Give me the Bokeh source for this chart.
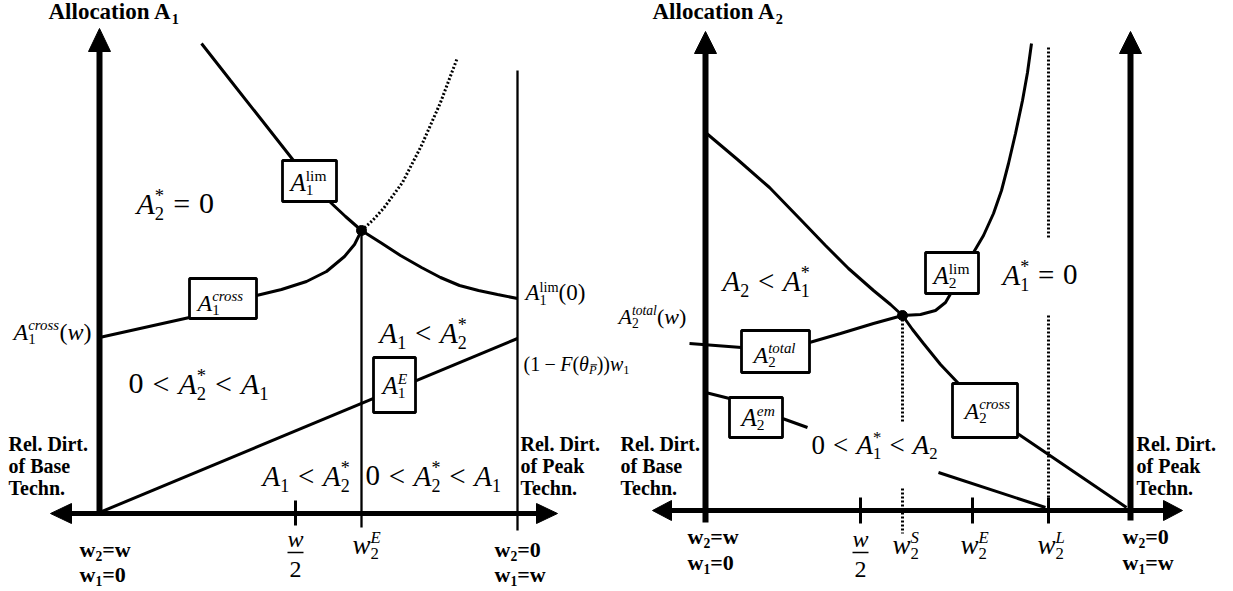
from bokeh.plotting import figure
from bokeh.models import Range1d, ColumnDataSource
from bokeh.embed import file_html
from bokeh.resources import INLINE
from bokeh.core.properties import value, field

# ---------------- data: schematic (page-pixel units) ----------------
# Left panel (Allocation A1)
lim1_x = [201, 230, 260, 293, 329, 345, 361, 380, 400, 421, 440, 459, 478, 497, 517]
lim1_y = [43, 80, 118, 160, 201, 216, 230, 242, 255, 267, 277, 285, 290, 294, 298]
lim1_dot_x = [361, 372, 383, 402, 421, 440, 457]
lim1_dot_y = [230, 220, 208, 182, 145, 102, 57]
cross1_x = [99, 189, 256, 281, 306, 326, 344, 354, 361]
cross1_y = [337, 317, 295, 289, 281, 271, 256, 244, 230]
e1_x = [99, 517]
e1_y = [512, 338]

# Right panel (Allocation A2)
upper2_x = [705, 737, 769, 800, 825, 848, 873, 890, 902]
upper2_y = [132, 159, 187, 219, 245, 268, 290, 304, 315]
lim2_x = [902, 920, 935, 945, 952, 973, 983, 993, 1001, 1008, 1015, 1022, 1027, 1031]
lim2_y = [315, 314, 310, 302, 290, 252, 235, 213, 190, 163, 133, 100, 72, 43]
total2_x = [689, 741, 809, 840, 873, 902]
total2_y = [343, 347, 342, 333, 323, 315]
cross2_x = [902, 912, 923, 940, 958, 1017, 1126]
cross2_y = [315, 329, 343, 364, 383, 433, 507]
em2a_x = [705, 729, 782, 807]
em2a_y = [392, 398, 418, 427]
em2b_x = [938, 1045]
em2b_y = [472, 507]

# intersection points
dots_x = [361, 902]
dots_y = [230, 315]

# label boxes
box_left = [282, 189, 373, 925, 741, 729, 952]
box_right = [336, 256, 415, 978, 809, 782, 1017]
box_top = [160, 278, 357, 252, 330, 397, 383]
box_bottom = [201, 318, 412, 293, 372, 437, 437]

rel_dirt_lines = ["Rel. Dirt.", "of Base", "Techn."]
rel_dirt_lines_peak = ["Rel. Dirt.", "of Peak", "Techn."]

SERIF = "Liberation Serif"
BASE_SHIFT = 0.33   # baseline correction (in em) for the text glyph

# ---------------- figure ----------------
p = figure(width=1233, height=591, x_range=Range1d(0, 1233), y_range=Range1d(591, 0),
           x_axis_type=None, y_axis_type=None, toolbar_location=None,
           output_backend="svg", min_border=0)
p.outline_line_color = None
p.background_fill_color = "white"
p.border_fill_color = "white"

K = "black"

# ---- axes ----
p.segment(x0=[99], y0=[48], x1=[99], y1=[514], line_width=6, color=K)
p.segment(x0=[68], y0=[513], x1=[539], y1=[513], line_width=5, color=K)
p.segment(x0=[705, 1130], y0=[51, 51], x1=[705, 1130], y1=[522, 520], line_width=6, color=K)
p.segment(x0=[669], y0=[510], x1=[1165], y1=[510], line_width=5, color=K)

# arrow heads
p.patches(xs=[[99, 88, 110], [705, 694, 716], [1130, 1119, 1141],
              [50, 71, 71], [557, 536, 536], [652, 671, 671], [1182, 1163, 1163]],
          ys=[[28, 51, 51], [31, 53, 53], [31, 53, 53],
              [513, 503, 523], [513, 503, 523], [510, 500, 520], [510, 500, 520]],
          color=K, line_width=1)

# ticks and thin verticals
p.segment(x0=[295, 860, 972, 1048], y0=[500, 497, 497, 497],
          x1=[295, 860, 972, 1048], y1=[525, 523, 523, 523], line_width=3, color=K)
p.segment(x0=[361, 517], y0=[230, 70], x1=[361, 517], y1=[527, 530], line_width=2.3, color=K)

# dotted verticals (right panel)
p.segment(x0=[902, 902, 1048, 1048], y0=[315, 488, 47, 315],
          x1=[902, 902, 1048, 1048], y1=[422, 533, 237, 497],
          line_width=3, color=K, line_dash="2 2")

# ---- curves ----
LW = 3
p.line(lim1_x, lim1_y, line_width=LW, color=K)
p.line(lim1_dot_x, lim1_dot_y, line_width=3, color=K, line_dash="2 2")
p.line(cross1_x, cross1_y, line_width=LW, color=K)
p.line(e1_x, e1_y, line_width=LW, color=K)
p.line(upper2_x, upper2_y, line_width=LW, color=K)
p.line(lim2_x, lim2_y, line_width=LW, color=K)
p.line(total2_x, total2_y, line_width=LW, color=K)
p.line(cross2_x, cross2_y, line_width=LW, color=K)
p.line(em2a_x, em2a_y, line_width=LW, color=K)
p.line(em2b_x, em2b_y, line_width=LW, color=K)
p.scatter(dots_x, dots_y, size=10, color=K)

# boxes
p.quad(left=box_left, right=box_right, top=box_top, bottom=box_bottom,
       fill_color="white", line_color=K, line_width=2.8)

# ---------------- text layout helper ----------------
W_R = {' ': 250, '(': 333, ')': 333, '*': 500, '=': 564, '<': 564, '\u2212': 564,
       'A': 722, 'E': 611, 'F': 556, 'L': 611, 'S': 556, 'P': 556,
       'a': 444, 'c': 444, 'e': 444, 'i': 278, 'l': 278, 'm': 778, 'n': 500,
       'o': 500, 'r': 333, 's': 389, 't': 278, 'w': 722}
W_I = {'A': 611, 'E': 611, 'F': 611, 'L': 556, 'S': 500, 'P': 611, 'w': 667,
       'c': 444, 'r': 389, 'o': 500, 's': 389, 't': 278, 'a': 500, 'l': 278,
       'e': 444, 'm': 722, '\u03b8': 500}
W_B = {'A': 722, 'l': 278, 'o': 500, 'c': 444, 'a': 500, 't': 333, 'i': 278,
       'n': 556, ' ': 250, 'R': 722, 'e': 444, '.': 250, 'D': 722, 'r': 444,
       'f': 333, 'B': 667, 's': 389, 'T': 667, 'h': 556, 'P': 611, 'k': 556,
       'w': 722, '=': 570}
TABLES = {'r': W_R, 'i': W_I, 'b': W_B}
STYLE = {'r': 'normal', 'i': 'italic', 'b': 'bold'}
store = {k: dict(x=[], y=[], text=[], size=[]) for k in TABLES}


def tw(s, st, fs):
    t = TABLES[st]
    return sum(t.get(c, 500) for c in s) / 1000.0 * fs


def put(st, x, y, s, fs):
    d = store[st]
    d['x'].append(x); d['y'].append(y - BASE_SHIFT * fs); d['text'].append(s)
    d['size'].append("%.1fpx" % fs)


def run(x, y, pieces, size):
    cur = x
    prev_start = x
    placed = []
    for pc in pieces:
        s, st = pc[0], pc[1]
        pos = pc[2] if len(pc) > 2 else 'n'
        stack = len(pc) > 3 and pc[3]
        fs, dy, pad = size, 0.0, 0.0
        if pos == 'sub':
            fs, dy = size * 0.62, 0.2 * size
        elif pos == 'sup':
            fs, dy = size * 0.62, -0.4 * size
        elif pos == 'rel':
            pad = 0.3 * size
        elif pos == 'bin':
            pad = 0.22 * size
        start = prev_start if stack else cur + pad
        w = tw(s, st, fs)
        put(st, start, y + dy, s, fs)
        placed.append((start, y + dy, fs, w))
        cur = max(cur, start + w) if stack else start + w + pad
        prev_start = start
    return placed


A1 = [("A", 'i'), ("1", 'r', 'sub')]
A2 = [("A", 'i'), ("2", 'r', 'sub')]
A1s = A1 + [("*", 'r', 'sup', True)]
A2s = A2 + [("*", 'r', 'sup', True)]
LT = [("<", 'r', 'rel')]
EQ = [("=", 'r', 'rel')]
ZERO = [("0", 'r')]

# titles
run(48, 19, [("Allocation A", 'b'), ("1", 'b', 'sub')], 23)
run(652, 19, [("Allocation A", 'b'), ("2", 'b', 'sub')], 23)

# left-panel region labels
run(136, 213, A2s + EQ + ZERO, 30)
run(128, 393, ZERO + LT + A2s + LT + A1, 30)
run(379, 342, A1 + LT + A2s, 29)
run(262, 485, A1 + LT + A2s, 29)
run(365, 485, ZERO + LT + A2s + LT + A1, 29)
run(13, 339, A1 + [("cross", 'i', 'sup', True), ("(", 'r'), ("w", 'i'), (")", 'r')], 24)
run(525, 300, A1 + [("lim", 'r', 'sup', True), ("(0)", 'r')], 23)
pl = run(523, 370, [("(1", 'r'), ("\u2212", 'r', 'bin'), ("F", 'i'), ("(", 'r'), ("\u03b8", 'i'),
                    ("P", 'i', 'sub'), ("))", 'r'), ("w", 'i'), ("1", 'r', 'sub')], 20)
px0, py0, pfs, pw = pl[5]
p.segment(x0=[px0 + 1.5], y0=[py0 - 0.78 * pfs], x1=[px0 + pw + 0.5], y1=[py0 - 0.78 * pfs],
          line_width=1, color=K)
# left boxes
run(290, 190, A1 + [("lim", 'r', 'sup', True)], 25)
run(197, 310, A1 + [("cross", 'i', 'sup', True)], 24)
run(382, 393, A1 + [("E", 'i', 'sup', True)], 25)

# right-panel region labels
run(722, 290, A2 + LT + A1s, 29)
run(1002, 284, A1s + EQ + ZERO, 29)
run(811, 453, ZERO + LT + A1s + LT + A2, 27)
run(618, 323, A2 + [("total", 'i', 'sup', True), ("(", 'r'), ("w", 'i'), (")", 'r')], 22)
# right boxes
run(933, 283, A2 + [("lim", 'r', 'sup', True)], 25)
run(753, 362, A2 + [("total", 'i', 'sup', True)], 24)
run(741, 425, A2 + [("em", 'i', 'sup', True)], 25)
run(964, 418, A2 + [("cross", 'i', 'sup', True)], 24)

# bold tick labels at axis ends
for (x, y1, y2, a, b) in [(79, 556, 581, "w", "0"), (494, 556, 581, "0", "w"),
                          (687, 543, 569, "w", "0"), (1122, 543, 569, "0", "w")]:
    run(x, y1, [("w", 'b'), ("2", 'b', 'sub'), ("=" + a, 'b')], 22)
    run(x, y2, [("w", 'b'), ("1", 'b', 'sub'), ("=" + b, 'b')], 22)

# italic tick labels
run(352, 553, [("w", 'i'), ("2", 'r', 'sub'), ("E", 'i', 'sup', True)], 27)
run(892, 553, [("w", 'i'), ("2", 'r', 'sub'), ("S", 'i', 'sup', True)], 27)
run(960, 553, [("w", 'i'), ("2", 'r', 'sub'), ("E", 'i', 'sup', True)], 27)
run(1037, 553, [("w", 'i'), ("2", 'r', 'sub'), ("L", 'i', 'sup', True)], 27)

# Rel. Dirt. captions
for x0, lines in [(8, rel_dirt_lines), (520, rel_dirt_lines_peak),
                  (620, rel_dirt_lines), (1136, rel_dirt_lines_peak)]:
    for yb, s in zip([450, 472, 494], lines):
        put('b', x0, yb, s, 20)

for st, d in store.items():
    p.text(x='x', y='y', text='text', source=ColumnDataSource(d),
           text_font=value(SERIF), text_font_size=field('size'), text_font_style=STYLE[st],
           text_baseline='alphabetic', text_align='left', text_color=K)

# w/2 fractions
half_x = [295, 860]
p.text(x=half_x, y=[546 - BASE_SHIFT * 24] * 2, text=["w", "w"], text_font=value(SERIF),
       text_font_size="24px", text_font_style="italic", text_align="center",
       text_baseline="alphabetic", text_color=K)
p.text(x=half_x, y=[577 - BASE_SHIFT * 24] * 2, text=["2", "2"], text_font=value(SERIF),
       text_font_size="24px", text_align="center", text_baseline="alphabetic", text_color=K)
p.segment(x0=[h - 8 for h in half_x], y0=[552, 552], x1=[h + 8 for h in half_x], y1=[552, 552],
          line_width=1.5, color=K)

open("out.html", "w").write(file_html(p, INLINE))
